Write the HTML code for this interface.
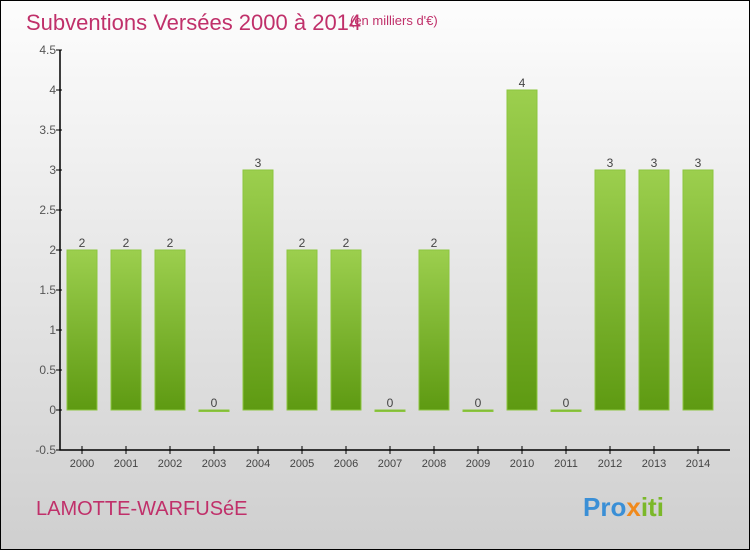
<!DOCTYPE html>
<html><head><meta charset="utf-8"><style>
body{margin:0;width:750px;height:550px;overflow:hidden;font-family:"Liberation Sans",sans-serif}
</style></head><body>
<svg width="750" height="550" xmlns="http://www.w3.org/2000/svg">
<defs>
<linearGradient id="bg" x1="0" y1="0" x2="0" y2="1"><stop offset="0" stop-color="#fdfdfd"/><stop offset="1" stop-color="#cfcfcf"/></linearGradient>
<linearGradient id="bar" x1="0" y1="0" x2="0" y2="1"><stop offset="0" stop-color="#9ccf4e"/><stop offset="1" stop-color="#5e9a12"/></linearGradient>
</defs>
<rect x="0.5" y="0.5" width="749" height="549" fill="url(#bg)" stroke="#000"/>
<text x="26" y="30" font-size="22" fill="#c0306a">Subventions Versées 2000 à 2014</text>
<text x="350" y="25" font-size="13" fill="#c0306a">(en milliers d'€)</text>
<text x="36" y="515" font-size="20" fill="#c0306a">LAMOTTE-WARFUSéE</text>
<g font-size="26" font-weight="bold">
<text x="583" y="516"><tspan fill="#3a8fd6">Pro</tspan><tspan fill="#f08a1c">x</tspan><tspan fill="#7bb829">iti</tspan></text>
</g>
<g id="plot"></g>
</svg>
<script>
const categories=["2000","2001","2002","2003","2004","2005","2006","2007","2008","2009","2010","2011","2012","2013","2014"];
const values=[2,2,2,0,3,2,2,0,2,0,4,0,3,3,3];
const yTicks=[-0.5,0,0.5,1,1.5,2,2.5,3,3.5,4,4.5];
const yTickLabels=["-0.5","0","0.5","1","1.5","2","2.5","3","3.5","4","4.5"];
const NS="http://www.w3.org/2000/svg";
const g=document.getElementById('plot');
const yS=v=>410-v*80;
const xS=i=>82+i*44;
function mk(t,a){const e=document.createElementNS(NS,t);for(const k in a)e.setAttribute(k,a[k]);g.appendChild(e);return e;}
let ax=mk('path',{d:'M60 50V450H730',stroke:'#000',fill:'none','stroke-width':1.5});


yTicks.forEach((v,i)=>{
 const t=mk('line',{x1:56,x2:62,y1:yS(v),y2:yS(v),stroke:'#000'});
 
 
 const l=mk('text',{x:56,y:yS(v)+4,'font-size':12,fill:'#555','text-anchor':'end'});
 
 
 l.textContent=yTickLabels[i];
});
categories.forEach((c,i)=>{
 const x=xS(i);
 const t=mk('line',{x1:x,x2:x,y1:446,y2:454,stroke:'#000'});
 
 
 const l=mk('text',{x:x,y:467,'font-size':11,fill:'#444','text-anchor':'middle'});
 
 
 l.textContent=c;
 const v=values[i];
 const top=yS(v),h=Math.max(yS(0)-top,1);
 const b=mk('rect',{x:x-15,y:v>0?top:yS(0),width:30,height:v>0?h:1.5,fill:'url(#bar)',stroke:'#8cc63f','stroke-width':1});
 
 
 const vl=mk('text',{x:x,y:top-3,'font-size':12,fill:'#444','text-anchor':'middle'});
 
 
 vl.textContent=v;
});
</script>
</body></html>
